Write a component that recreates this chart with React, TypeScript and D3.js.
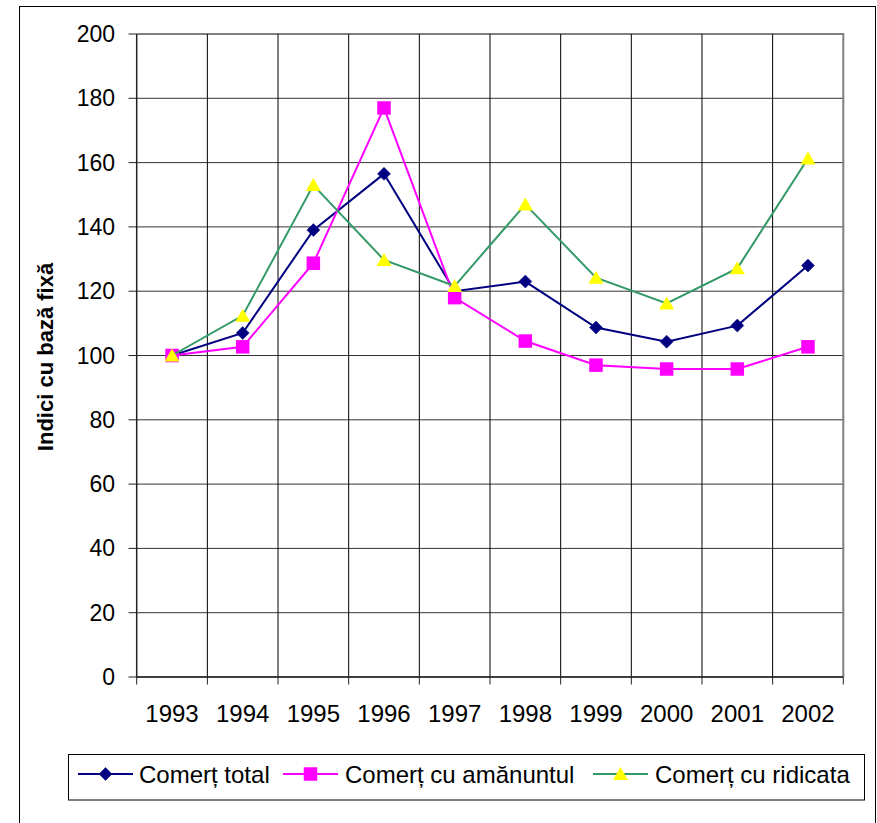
import React from "react";
import * as d3 from "d3";

const years = ["1993", "1994", "1995", "1996", "1997", "1998", "1999", "2000", "2001", "2002"];
const comertTotal = [100, 107, 139, 156.5, 120, 123, 108.7, 104.3, 109.3, 128];
const comertAmanuntul = [100, 102.7, 128.7, 177, 118, 104.5, 97, 95.8, 95.8, 102.7];
const comertRidicata = [100, 112.4, 153, 129.7, 121.6, 147, 124.2, 116.2, 127.1, 161.3];
const yTicks = [0, 20, 40, 60, 80, 100, 120, 140, 160, 180, 200];
const seriesNames = ["Comerț total", "Comerț cu amănuntul", "Comerț cu ridicata"];

const W = 877;
const H = 823;
const plotL = 136.7;
const plotR = 843.3;
const plotT = 34;
const plotB = 677;
const FONT = "'Liberation Sans', Arial, sans-serif";

const x = d3.scaleBand<string>().domain(years).range([plotL, plotR]);
const y = d3.scaleLinear().domain([0, 200]).range([plotB, plotT]);

type Kind = "diamond" | "square" | "triangle";

function Marker({ kind, cx, cy }: { kind: Kind; cx: number; cy: number }) {
  if (kind === "diamond") {
    const r = 6.5;
    return (
      <path
        d={`M${cx},${cy - r}L${cx + r},${cy}L${cx},${cy + r}L${cx - r},${cy}Z`}
        fill="#000080"
        stroke="#000080"
        strokeWidth={0.5}
      />
    );
  }
  if (kind === "square") {
    const s = 13.5;
    return <rect x={cx - s / 2} y={cy - s / 2} width={s} height={s} fill="#FF00FF" />;
  }
  const hw = 7.5;
  return (
    <path
      d={`M${cx},${cy - 7}L${cx + hw},${cy + 6}L${cx - hw},${cy + 6}Z`}
      fill="#FFFF00"
    />
  );
}

const series: { name: string; values: number[]; color: string; kind: Kind }[] = [
  { name: seriesNames[0], values: comertTotal, color: "#000080", kind: "diamond" },
  { name: seriesNames[1], values: comertAmanuntul, color: "#FF00FF", kind: "square" },
  { name: seriesNames[2], values: comertRidicata, color: "#339966", kind: "triangle" },
];

export default function App() {
  const cx = (yr: string) => (x(yr) as number) + x.bandwidth() / 2;
  const line = d3
    .line<number>()
    .x((_, i) => cx(years[i]))
    .y((v) => y(v));

  const boundaries = years.map((yr) => x(yr) as number).concat([plotR]);

  const legendItems = [
    { lineX: 78, textX: 139 },
    { lineX: 283, textX: 345 },
    { lineX: 593, textX: 655 },
  ];
  const legendY = 774;

  return (
    <div style={{ position: "absolute", left: 0, top: 0 }}>
      <svg width={W} height={H} style={{ display: "block", background: "#fff" }}>
        <rect x={0} y={0} width={W} height={H} fill="#fff" />
        {/* outer border */}
        <rect x={19.5} y={6.5} width={856} height={830} fill="none" stroke="#000" strokeWidth={1} />

        {/* horizontal gridlines */}
        {yTicks.map((t) => (
          <line
            key={"h" + t}
            x1={plotL}
            x2={plotR}
            y1={y(t)}
            y2={y(t)}
            stroke={t === 200 ? "#808080" : "#333"}
            strokeWidth={t === 200 ? 2 : 1}
          />
        ))}
        {/* vertical gridlines */}
        {boundaries.slice(1, -1).map((b, i) => (
          <line key={"v" + i} x1={b} x2={b} y1={plotT} y2={plotB} stroke="#000" strokeWidth={1} />
        ))}
        {/* right border */}
        <line x1={plotR} x2={plotR} y1={plotT - 1} y2={plotB} stroke="#808080" strokeWidth={2} />
        {/* left axis */}
        <line x1={plotL} x2={plotL} y1={plotT} y2={plotB} stroke="#222" strokeWidth={1.5} />
        {/* bottom axis */}
        <line x1={plotL} x2={plotR} y1={plotB} y2={plotB} stroke="#222" strokeWidth={1.5} />

        {/* y ticks */}
        {yTicks.map((t) => (
          <g key={"yt" + t}>
            <line x1={128.5} x2={plotL} y1={y(t)} y2={y(t)} stroke="#222" strokeWidth={1} />
            <text
              x={115}
              y={y(t) + 8}
              textAnchor="end"
              fontFamily={FONT}
              fontSize={23}
              fill="#000"
            >
              {t}
            </text>
          </g>
        ))}
        {/* x ticks */}
        {boundaries.map((b, i) => (
          <line key={"xt" + i} x1={b} x2={b} y1={plotB} y2={684.5} stroke="#222" strokeWidth={1} />
        ))}
        {years.map((yr) => (
          <text
            key={"xl" + yr}
            x={cx(yr)}
            y={722}
            textAnchor="middle"
            fontFamily={FONT}
            fontSize={24}
            fill="#000"
          >
            {yr}
          </text>
        ))}

        {/* y axis title */}
        <text
          transform={`translate(53,357) rotate(-90)`}
          textAnchor="middle"
          fontFamily={FONT}
          fontSize={22}
          fontWeight="bold"
          fill="#000"
        >
          Indici cu bază fixă
        </text>

        {/* series */}
        {series.map((s) => (
          <g key={s.name}>
            <path d={line(s.values) || ""} fill="none" stroke={s.color} strokeWidth={2} />
            {s.values.map((v, i) => (
              <Marker key={i} kind={s.kind} cx={cx(years[i])} cy={y(v)} />
            ))}
          </g>
        ))}

        {/* legend */}
        <rect x={68.5} y={754.5} width={796} height={45.5} fill="#fff" stroke="#000" strokeWidth={1} />
        {series.map((s, i) => (
          <g key={"lg" + i}>
            <line
              x1={legendItems[i].lineX}
              x2={legendItems[i].lineX + 55}
              y1={legendY}
              y2={legendY}
              stroke={s.color}
              strokeWidth={2}
            />
            <Marker kind={s.kind} cx={legendItems[i].lineX + 27.5} cy={legendY} />
            <text
              x={legendItems[i].textX}
              y={legendY + 8.5}
              fontFamily={FONT}
              fontSize={24}
              fill="#000"
            >
              {s.name}
            </text>
          </g>
        ))}
      </svg>
    </div>
  );
}
